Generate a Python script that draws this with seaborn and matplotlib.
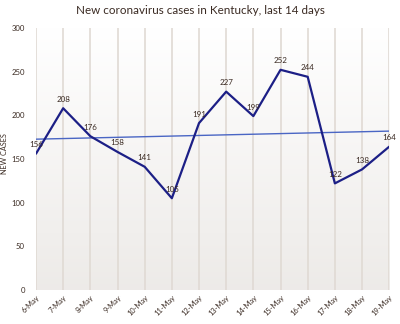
import numpy as np
import pandas as pd
import matplotlib
matplotlib.use("Agg")
import matplotlib.pyplot as plt
import seaborn as sns

dates = ["6-May", "7-May", "8-May", "9-May", "10-May", "11-May", "12-May",
         "13-May", "14-May", "15-May", "16-May", "17-May", "18-May", "19-May"]
cases = [156, 208, 176, 158, 141, 105, 191, 227, 199, 252, 244, 122, 138, 164]
yticks = [0, 50, 100, 150, 200, 250, 300]

sns.set_style("white")
plt.rcParams['font.family'] = ['Lato', 'DejaVu Sans']
txt = "#3a2a22"

df = pd.DataFrame({"x": np.arange(len(dates)), "date": dates, "cases": cases})

fig = plt.figure(figsize=(4.0, 3.24), dpi=100)
ax = fig.add_axes([0.09, 0.105, 0.883, 0.809])

# gradient background
grad = np.linspace(0, 1, 256).reshape(-1, 1)
c_top = np.array([1.0, 1.0, 1.0])
c_bot = np.array([0.93, 0.92, 0.91])
img = c_top + (c_bot - c_top) * grad[:, :, None]
ax.imshow(img, extent=[0, len(dates) - 1, 0, 300], aspect='auto', zorder=0, origin='upper')

for xi in df["x"]:
    ax.axvline(xi, color="#e0dad4", lw=1.2, zorder=1)

sns.lineplot(data=df, x="x", y="cases", ax=ax, color="#1c1f86", lw=1.6, zorder=3)
sns.regplot(data=df, x="x", y="cases", ax=ax, scatter=False, ci=None, truncate=True,
            line_kws=dict(color="#4a66c4", lw=1.0, zorder=2))

for xi, v in zip(df["x"], cases):
    ax.annotate(str(v), (xi, v), xytext=(0, 4), textcoords="offset points",
                ha="center", va="bottom", fontsize=5.8, color=txt, zorder=4)

ax.set_xlim(0, len(dates) - 1)
ax.set_ylim(0, 300)
ax.set_xticks(df["x"])
ax.set_xticklabels(dates, rotation=45, ha="right", rotation_mode="anchor", fontsize=5.4, color=txt)
ax.set_yticks(yticks)
ax.set_yticklabels([str(t) for t in yticks], fontsize=5.6, color=txt)
ax.tick_params(axis='both', length=0, pad=8)
ax.tick_params(axis='x', pad=3)
ax.set_xlabel("")
ax.set_ylabel("NEW CASES", fontsize=5.2, color=txt)
ax.yaxis.set_label_coords(-0.078, 0.52)
for s in ax.spines.values():
    s.set_visible(False)

fig.suptitle("New coronavirus cases in Kentucky, last 14 days", y=0.985, fontsize=8.4, color=txt)

fig.savefig("out.png", dpi=100, facecolor="white")
